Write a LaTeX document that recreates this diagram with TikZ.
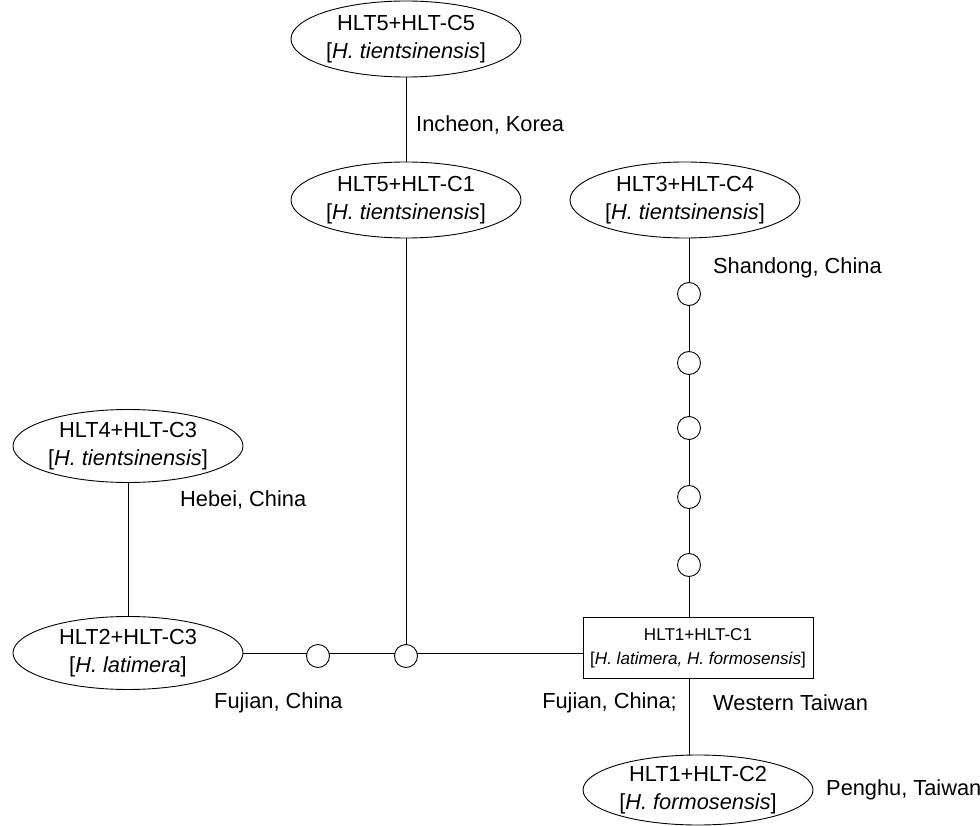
\documentclass[tikz,border=0pt]{standalone}
\usepackage{fontspec}
\setmainfont{Liberation Sans}
\usetikzlibrary{shapes.geometric}
\tikzset{
  hapl/.style={draw, ellipse, line width=0.9pt, minimum width=230pt, minimum height=76pt, inner sep=0pt, align=center, font=\fontsize{21.8}{28}\selectfont, fill=white},
  haplbox/.style={draw, rectangle, line width=0.9pt, minimum width=230pt, minimum height=61pt, inner sep=0pt, align=center, font=\fontsize{17.1}{24}\selectfont, fill=white},
  mv/.style={draw, circle, line width=0.9pt, minimum size=23pt, inner sep=0pt, fill=white},
  lbl/.style={font=\fontsize{21.8}{25}\selectfont, inner sep=0pt},
  link/.style={line width=0.9pt}
}
\begin{document}
\begin{tikzpicture}[x=1pt,y=-1pt]
\useasboundingbox (0,0) rectangle (980,826);
\coordinate (j1) at (406,656);
\node[hapl] (e5a) at (406,39) {HLT5+HLT-C5\\{[}\textit{H. tientsinensis}]};
\node[hapl] (e5b) at (406,200) {HLT5+HLT-C1\\{[}\textit{H. tientsinensis}]};
\node[hapl] (e3) at (685,200) {HLT3+HLT-C4\\{[}\textit{H. tientsinensis}]};
\node[hapl, minimum height=73pt] (e4) at (128,446) {HLT4+HLT-C3\\{[}\textit{H. tientsinensis}]};
\node[hapl, minimum height=73pt] (e2) at (128,653) {HLT2+HLT-C3\\{[}\textit{H. latimera}]};
\node[haplbox] (r1) at (698,648) {HLT1+HLT-C1\\{[}\textit{H. latimera, H. formosensis}]};
\node[hapl, minimum height=70pt] (e1) at (698,790) {HLT1+HLT-C2\\{[}\textit{H. formosensis}]};
\coordinate (v0) at (689,238);
\coordinate (vr) at (689,618);
\coordinate (vb) at (689,679);
\coordinate (ve) at (689,755);
\draw[link] (e5a) -- (e5b);
\draw[link] (e4) -- (e2);
\draw[link] (e5b.south) -- (j1);
\draw[link] (e2.east) -- (r1.west |- e2.east);
\draw[link] (v0) -- (vr);
\draw[link] (vb) -- (ve);
\node[mv] (c1) at (689,294) {};
\node[mv] (c2) at (689,363) {};
\node[mv] (c3) at (689,428) {};
\node[mv] (c4) at (689,497) {};
\node[mv] (c5) at (689,565) {};
\node[mv] (c6) at (318,656) {};
\node[mv] (c7) at (406,656) {};
\node[lbl, anchor=west] (l1) at (416,125) {Incheon, Korea};
\node[lbl, anchor=west] (l2) at (713,268) {Shandong, China};
\node[lbl, anchor=west] (l3) at (180,500) {Hebei, China};
\node[lbl, anchor=west] (l4) at (214,703) {Fujian, China};
\node[lbl, anchor=east] (l5) at (677,703) {Fujian, China;};
\node[lbl, anchor=west] (l6) at (713,703) {Western Taiwan};
\node[lbl, anchor=west] (l7) at (826,790) {Penghu, Taiwan};
\end{tikzpicture}
\end{document}
